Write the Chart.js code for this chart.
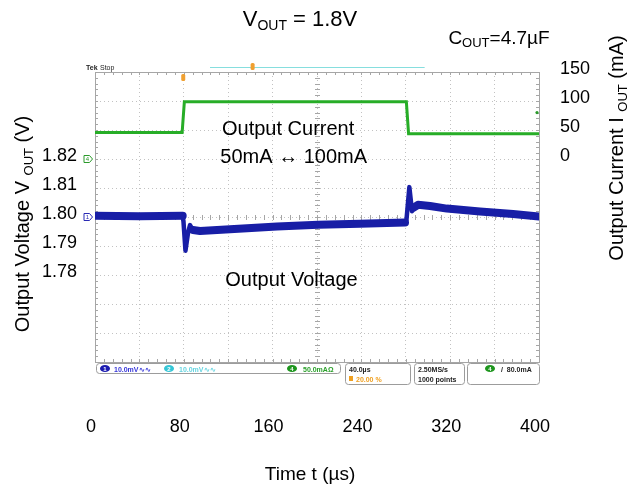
<!DOCTYPE html>
<html>
<head>
<meta charset="utf-8">
<title>VOUT = 1.8V load transient</title>
<script src="https://cdn.jsdelivr.net/npm/chart.js@4.4.1/dist/chart.umd.min.js"></script>
<style>
  html, body { margin: 0; padding: 0; background: #fff; }
  #wrap { width: 640px; height: 491px; }
</style>
</head>
<body>
<div id="wrap"><canvas id="scope" width="640" height="491"></canvas></div>
<script>
const timeTicks = [0, 80, 160, 240, 320, 400];      // µs, labelled
const voltTicks = [1.78, 1.79, 1.80, 1.81, 1.82];   // V, labelled
const currTicks = [0, 50, 100, 150];                // mA, labelled

// output current (ch4, green)
const currT = [0, 78.5, 80.5, 280.5, 282.5, 400];
const currI = [45.5, 45.5, 98.5, 98.5, 43.5, 43.5];

// output voltage (ch1, blue)
const voltT = [0, 40, 79, 79.7, 81.5, 83.8, 85.6, 88.3, 94.6, 121.6, 164, 201, 238.7,
               279.3, 280.6, 283.2, 285.6, 287.4, 291, 301.8, 317, 346.8, 376.6, 400];
const voltV = [1.8004, 1.8003, 1.8004, 1.7985, 1.7884, 1.7945, 1.7972, 1.7955, 1.7952, 1.7958, 1.7967, 1.7973, 1.7977,
               1.7981, 1.7990, 1.8103, 1.8020, 1.8033, 1.8042, 1.8038, 1.8029, 1.8019, 1.8010, 1.8002];

// load steps, where the trace is a thin line instead of the noise band
const stepWindows = [[79, 88.3], [279.3, 287.4]];

const FONT = '"Liberation Sans", Arial, Helvetica, sans-serif';
const GRID = "#c2c2c2";
const FRAME = "#a6a6a6";

function pts(xs, ys) {
  return xs.map((x, i) => ({ x, y: ys[i] }));
}

function hasTick(list, v) {
  return list.some(t => Math.abs(t - v) < 1e-6);
}

function inStep(a, b) {
  return stepWindows.some(w => a >= w[0] - 1e-6 && b <= w[1] + 1e-6);
}

// text with subscript pieces: [text, size, drop]
function richText(ctx, parts, cx, baseY) {
  let w = 0;
  for (const p of parts) {
    ctx.font = p[1] + "px " + FONT;
    w += ctx.measureText(p[0]).width;
  }
  let x = cx - w / 2;
  ctx.textAlign = "left";
  ctx.textBaseline = "alphabetic";
  for (const p of parts) {
    ctx.font = p[1] + "px " + FONT;
    ctx.fillText(p[0], x, baseY + p[2]);
    x += ctx.measureText(p[0]).width;
  }
}

function badge(ctx, cx, cy, fill, num) {
  ctx.fillStyle = fill;
  ctx.beginPath();
  ctx.ellipse(cx, cy, 5, 3.6, 0, 0, Math.PI * 2);
  ctx.fill();
  ctx.fillStyle = "#fff";
  ctx.font = "bold 6px " + FONT;
  ctx.textAlign = "center";
  ctx.textBaseline = "middle";
  ctx.fillText(num, cx, cy + 0.5);
  // back to status text style
  ctx.font = "bold 7px " + FONT;
  ctx.textAlign = "left";
  ctx.textBaseline = "alphabetic";
}

function box(ctx, x, y, w, h) {
  ctx.beginPath();
  ctx.roundRect(x, y, w, h, 3);
  ctx.strokeStyle = "#9c9c9c";
  ctx.lineWidth = 1;
  ctx.stroke();
}

function chMarker(ctx, x, y, color, num) {
  ctx.strokeStyle = color;
  ctx.lineWidth = 1;
  ctx.beginPath();
  ctx.moveTo(x - 4, y - 3.5);
  ctx.lineTo(x + 1.5, y - 3.5);
  ctx.lineTo(x + 4.5, y);
  ctx.lineTo(x + 1.5, y + 3.5);
  ctx.lineTo(x - 4, y + 3.5);
  ctx.closePath();
  ctx.stroke();
  ctx.fillStyle = color;
  ctx.font = "6px " + FONT;
  ctx.textAlign = "center";
  ctx.textBaseline = "middle";
  ctx.fillText(num, x - 0.5, y + 0.5);
}

const scopeDecor = {
  id: "scopeDecor",
  beforeDatasetsDraw(chart) {
    const { ctx, chartArea: ca, scales } = chart;
    const sx = scales.x, sv = scales.yV;
    ctx.save();
    ctx.strokeStyle = FRAME;
    ctx.lineWidth = 1;
    // top edge
    ctx.beginPath();
    ctx.moveTo(ca.left, ca.top + 0.5);
    ctx.lineTo(ca.right, ca.top + 0.5);
    ctx.stroke();
    // minor ticks on frame and centre cross (5 per division)
    const cx = Math.round(sx.getPixelForValue(200)) + 0.5;
    const cy = Math.round(sv.getPixelForValue(1.80)) + 0.5;
    ctx.beginPath();
    for (let t = 0; t <= 400; t += 8) {
      const x = Math.round(sx.getPixelForValue(t)) + 0.5;
      ctx.moveTo(x, ca.top); ctx.lineTo(x, ca.top + 3);
      ctx.moveTo(x, ca.bottom); ctx.lineTo(x, ca.bottom - 3);
      ctx.moveTo(x, cy - 2.5); ctx.lineTo(x, cy + 2.5);
    }
    for (let v = 1.75; v <= 1.8501; v += 0.002) {
      const y = Math.round(sv.getPixelForValue(v)) + 0.5;
      ctx.moveTo(ca.left, y); ctx.lineTo(ca.left + 3, y);
      ctx.moveTo(ca.right, y); ctx.lineTo(ca.right - 3, y);
      ctx.moveTo(cx - 2.5, y); ctx.lineTo(cx + 2.5, y);
    }
    ctx.stroke();
    ctx.restore();
  },
  afterDraw(chart) {
    const { ctx, chartArea: ca, scales } = chart;
    const sx = scales.x, sv = scales.yV, si = scales.yI;
    const L = ca.left, B = ca.bottom;
    ctx.save();

    // --- scope header: Tek Stop, record bar, trigger markers
    ctx.fillStyle = "#222";
    ctx.textAlign = "left";
    ctx.textBaseline = "alphabetic";
    ctx.font = "bold 7px " + FONT;
    ctx.fillText("Tek", 86, ca.top - 2);
    ctx.font = "7px " + FONT;
    ctx.fillText("Stop", 100, ca.top - 2);

    ctx.strokeStyle = "#86dede";
    ctx.lineWidth = 1;
    ctx.beginPath();
    ctx.moveTo(sx.getPixelForValue(103.6), ca.top - 4.5);
    ctx.lineTo(sx.getPixelForValue(297), ca.top - 4.5);
    ctx.stroke();

    ctx.fillStyle = "#f0a030";
    ctx.beginPath();
    ctx.roundRect(sx.getPixelForValue(142) - 2, ca.top - 9, 4, 7, 1.5);
    ctx.fill();
    ctx.beginPath();
    ctx.roundRect(sx.getPixelForValue(79.5) - 2, ca.top + 2, 4, 7, 1.5);
    ctx.fill();

    // channel ground markers and trigger level dot
    chMarker(ctx, L - 7, si.getPixelForValue(0), "#2a9a2a", "4");
    chMarker(ctx, L - 7, sv.getPixelForValue(1.80), "#2a2ab4", "1");
    ctx.fillStyle = "#2a9a2a";
    ctx.beginPath();
    ctx.arc(ca.right - 2, si.getPixelForValue(80), 1.6, 0, Math.PI * 2);
    ctx.fill();

    // --- status bar under the graticule
    box(ctx, L + 1.5, B + 1.5, 244, 10);
    badge(ctx, L + 10, B + 6.5, "#1c1cb0", "1");
    ctx.fillStyle = "#3434d8";
    ctx.fillText("10.0mV\u223F\u223F", L + 19, B + 9.5);
    badge(ctx, L + 74, B + 6.5, "#35c6d6", "2");
    ctx.fillStyle = "#66d4e0";
    ctx.fillText("10.0mV\u223F\u223F", L + 84, B + 9.5);
    badge(ctx, L + 197, B + 6.5, "#1e961e", "4");
    ctx.fillStyle = "#2aa02a";
    ctx.fillText("50.0mA\u03A9", L + 208, B + 9.5);

    box(ctx, L + 250.5, B + 1.5, 65, 21);
    ctx.fillStyle = "#222";
    ctx.fillText("40.0\u00B5s", L + 254, B + 9.5);
    ctx.fillStyle = "#f0a020";
    ctx.fillRect(L + 254, B + 14, 4, 5);
    ctx.fillText("20.00 %", L + 261, B + 19.5);

    box(ctx, L + 319.5, B + 1.5, 50, 21);
    ctx.fillStyle = "#222";
    ctx.fillText("2.50MS/s", L + 323, B + 9.5);
    ctx.fillText("1000 points", L + 323, B + 19.5);

    box(ctx, L + 372.5, B + 1.5, 72, 21);
    badge(ctx, L + 395, B + 6.5, "#1e961e", "4");
    ctx.fillStyle = "#222";
    ctx.fillText("/  80.0mA", L + 406, B + 9.5);

    // --- annotations on the plot
    ctx.fillStyle = "#000";
    ctx.font = "20px " + FONT;
    ctx.textAlign = "center";
    ctx.textBaseline = "middle";
    ctx.fillText("Output Current", sx.getPixelForValue(174), si.getPixelForValue(51));
    ctx.fillText("50mA \u2194 100mA", sx.getPixelForValue(179), si.getPixelForValue(3));
    ctx.fillText("Output Voltage", sx.getPixelForValue(177), sv.getPixelForValue(1.7782));

    // --- titles with subscripts
    ctx.fillStyle = "#000";
    richText(ctx, [["V", 22, 0], ["OUT", 14, 4], [" = 1.8V", 22, 0]], 300, 26);
    richText(ctx, [["C", 19, 0], ["OUT", 13, 3], ["=4.7\u00B5F", 19, 0]], 499, 44);
    richText(ctx, [["Time t (\u00B5s)", 19, 0]], 310, 480);

    ctx.save();
    ctx.translate(22, 224);
    ctx.rotate(-Math.PI / 2);
    richText(ctx, [["Output Voltage V ", 20, 0], ["OUT", 13, 4], [" (V)", 20, 0]], 0, 7);
    ctx.restore();

    ctx.save();
    ctx.translate(616, 148);
    ctx.rotate(-Math.PI / 2);
    richText(ctx, [["Output Current I ", 20, 0], ["OUT", 13, 4], [" (mA)", 20, 0]], 0, 7);
    ctx.restore();

    ctx.restore();
  }
};

const tickFont = { family: FONT, size: 18 };

new Chart(document.getElementById("scope"), {
  type: "line",
  data: {
    datasets: [
      {
        label: "Output Current",
        data: pts(currT, currI),
        yAxisID: "yI",
        borderColor: "#27ad27",
        borderWidth: 3,
        pointRadius: 0,
        tension: 0
      },
      {
        label: "Output Voltage band",
        data: pts(voltT, voltV),
        yAxisID: "yV",
        borderColor: "#181ea6",
        borderWidth: 8,
        borderJoinStyle: "round",
        borderCapStyle: "round",
        pointRadius: 0,
        tension: 0,
        segment: {
          borderWidth: c => inStep(c.p0.parsed.x, c.p1.parsed.x) ? 4.5 : 8
        }
      },
      {
        label: "Output Voltage",
        data: pts(voltT, voltV),
        yAxisID: "yV",
        borderColor: "#2b40e8",
        borderWidth: 4,
        borderJoinStyle: "round",
        pointRadius: 0,
        tension: 0,
        segment: {
          borderWidth: c => inStep(c.p0.parsed.x, c.p1.parsed.x) ? 2.5 : 4
        }
      }
    ]
  },
  options: {
    responsive: false,
    animation: false,
    devicePixelRatio: 1,
    events: [],
    layout: { padding: { top: 72, left: 0, right: 0, bottom: 0 } },
    plugins: { legend: { display: false }, title: { display: false }, tooltip: { enabled: false } },
    scales: {
      x: {
        type: "linear",
        min: 0,
        max: 400,
        afterFit(s) { s.height = 129; },
        ticks: {
          stepSize: 40,
          padding: 54,
          labelOffset: -4,
          color: "#000",
          font: tickFont,
          maxRotation: 0,
          callback: v => hasTick(timeTicks, v) ? String(v) : ""
        },
        grid: { color: GRID, drawTicks: false },
        border: { display: true, color: FRAME, dash: [1, 3] }
      },
      yV: {
        type: "linear",
        position: "left",
        min: 1.75,
        max: 1.85,
        afterFit(s) { s.width = 95; },
        ticks: {
          stepSize: 0.01,
          padding: 18,
          labelOffset: -3,
          color: "#000",
          font: tickFont,
          callback: v => hasTick(voltTicks, v) ? v.toFixed(2) : ""
        },
        grid: { color: GRID, drawTicks: false },
        border: { display: true, color: FRAME, dash: [1, 3] }
      },
      yI: {
        type: "linear",
        position: "right",
        min: -350,
        max: 150,
        afterFit(s) { s.width = 101; },
        ticks: {
          stepSize: 50,
          padding: 21,
          labelOffset: -3,
          color: "#000",
          font: tickFont,
          callback: v => hasTick(currTicks, v) ? String(v) : ""
        },
        grid: { display: false, drawTicks: false },
        border: { display: true, color: FRAME }
      }
    }
  },
  plugins: [scopeDecor]
});
</script>
</body>
</html>
